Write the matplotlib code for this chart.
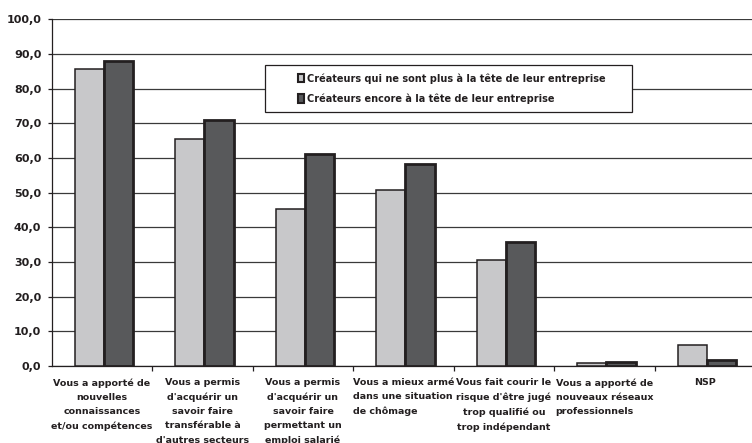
import matplotlib
matplotlib.use("Agg")
import matplotlib.pyplot as plt
from matplotlib.patches import Rectangle, Patch
import numpy as np

categories = [
    "Vous a apporté de\nnouvelles\nconnaissances\net/ou compétences",
    "Vous a permis\nd'acquérir un\nsavoir faire\ntransférable à\nd'autres secteurs",
    "Vous a permis\nd'acquérir un\nsavoir faire\npermettant un\nemploi salarié",
    "Vous a mieux armé\ndans une situation\nde chômage",
    "Vous fait courir le\nrisque d'être jugé\ntrop qualifié ou\ntrop indépendant",
    "Vous a apporté de\nnouveaux réseaux\nprofessionnels",
    "NSP",
]
label_align = ["center", "center", "center", "left", "center", "left", "center"]
series_names = ["Créateurs qui ne sont plus à la tête de leur entreprise",
                "Créateurs encore à la tête de leur entreprise"]
plus_tete = [85.6, 65.5, 45.2, 50.8, 30.6, 1.0, 6.0]
encore_tete = [88.1, 71.0, 61.1, 58.2, 35.7, 1.2, 1.6]
yticks = [0, 10, 20, 30, 40, 50, 60, 70, 80, 90, 100]

plt.rcParams['font.family'] = ['DejaVu Sans']
plt.rcParams['font.weight'] = 'bold'

W, H = 752, 443
fig = plt.figure(figsize=(W / 100, H / 100), dpi=100)
ax_left, ax_right = 51.7, 755.2
ax_top, ax_bot = 19.3, 366.0
ax = fig.add_axes([ax_left / W, 1 - ax_bot / H, (ax_right - ax_left) / W, (ax_bot - ax_top) / H])

light = "#c8c8ca"
dark = "#58595b"
edge = "#231f20"
x = np.arange(len(categories))
bw = 0.29
ax.bar(x - bw / 2 + 0.02, plus_tete, bw, color=light, edgecolor=edge, linewidth=1.1, zorder=3)
ax.bar(x + bw / 2 + 0.02, encore_tete, bw, color=dark, edgecolor=edge, linewidth=2.0, zorder=3)

ax.set_xlim(-0.5, len(categories) - 0.5)
ax.set_ylim(0, 100)
ax.set_yticks(yticks)
ax.set_yticklabels([f"{v:.1f}".replace(".", ",") for v in yticks])
ax.yaxis.grid(True, color="#3a3a3a", linewidth=0.9, zorder=0)
ax.set_axisbelow(True)
for s in ["top", "right"]:
    ax.spines[s].set_visible(False)
ax.spines["left"].set_color(edge)
ax.spines["bottom"].set_color(edge)
ax.spines["left"].set_linewidth(0.9)
ax.spines["bottom"].set_linewidth(0.9)
ax.tick_params(axis="y", length=3, width=0.9, pad=4.5, labelsize=8, colors=edge)

ax.set_xticks(x)
ax.set_xticklabels([])
ax.tick_params(axis="x", which="major", length=0)
ax.set_xticks(np.arange(0.5, len(categories) - 0.5, 1), minor=True)
ax.tick_params(axis="x", which="minor", length=3.5, width=0.9, colors=edge)
for i, lab in enumerate(categories):
    ax.annotate(lab, xy=(i, 0), xycoords="data", xytext=(0, -12), textcoords="offset pixels",
                ha="center", va="top", multialignment=label_align[i], fontsize=6.8,
                fontweight="bold", color=edge, linespacing=1.74, annotation_clip=False)

# legend box
bx0, by0, bx1, by1 = 265, 65, 632, 112
fig.patches.append(Rectangle((bx0 / W, 1 - by1 / H), (bx1 - bx0) / W, (by1 - by0) / H,
                             transform=fig.transFigure, facecolor="white", edgecolor=edge,
                             linewidth=0.9, zorder=5))
handles = [Patch(facecolor=light, edgecolor=edge, linewidth=1.5),
           Patch(facecolor=dark, edgecolor=edge, linewidth=1.5)]
leg = fig.legend(handles, series_names, loc="center",
                 bbox_to_anchor=(((bx0 + bx1) / 2 + 3) / W, 1 - ((by0 + by1) / 2) / H),
                 frameon=False, fontsize=7, handlelength=0.65, handleheight=0.9,
                 handletextpad=0.3, labelspacing=1.0, borderpad=0)
leg.set_zorder(6)
for t in leg.get_texts():
    t.set_color(edge)
    t.set_fontweight("bold")

fig.savefig("out.png", dpi=100)
